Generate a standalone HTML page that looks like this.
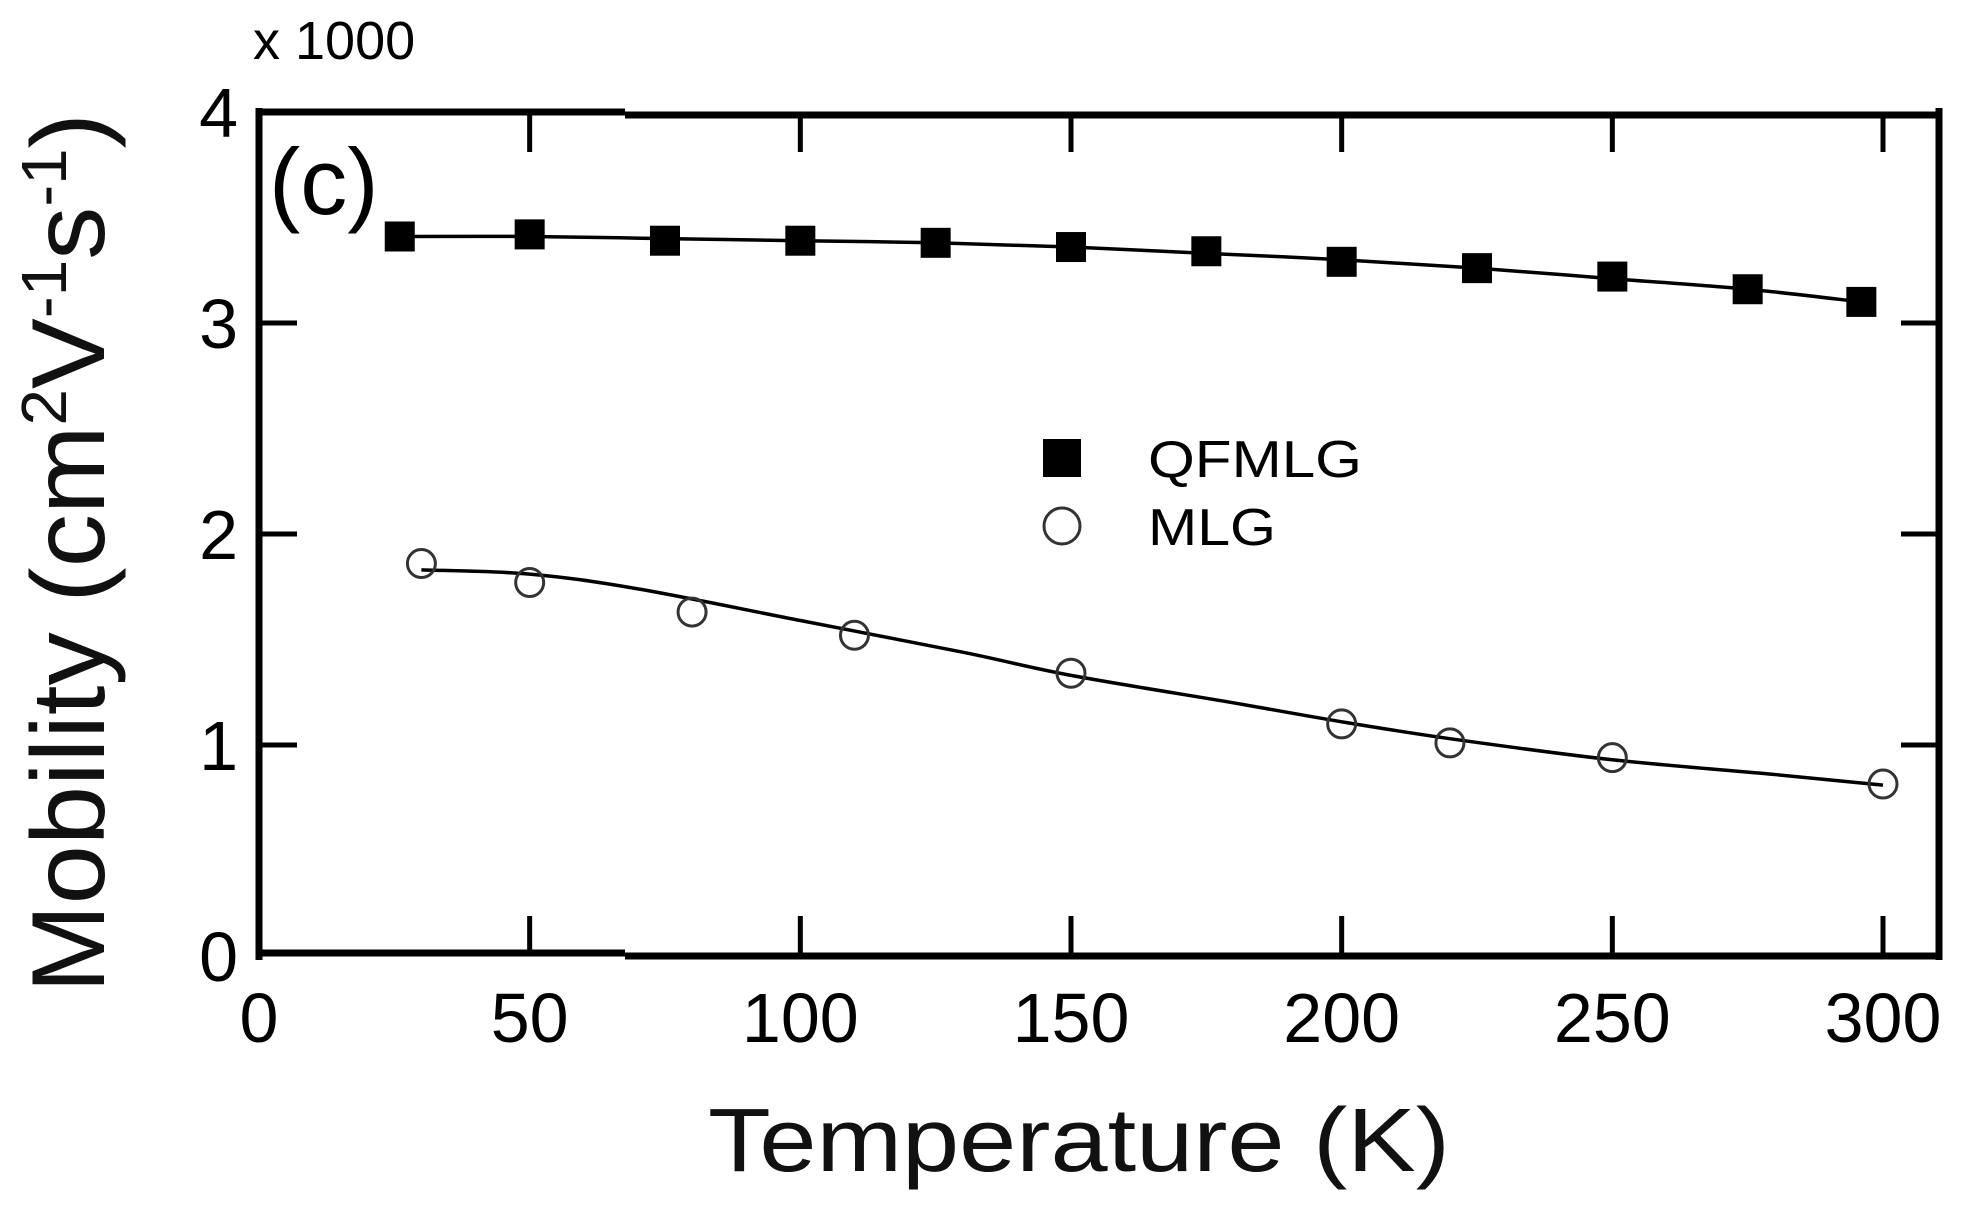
<!DOCTYPE html>
<html><head><meta charset="utf-8"><style>
html,body{margin:0;padding:0;background:#fff;}
svg{display:block;}
text{font-family:"Liberation Sans",sans-serif;fill:#000;}
</style></head><body>
<svg id="chart" width="1964" height="1218" viewBox="0 0 1964 1218" xmlns="http://www.w3.org/2000/svg">
<g id="frame"></g>
<g id="ticks"></g>
<g id="series"></g>
<text x="253" y="59" font-size="54">x 1000</text>
<text x="269" y="214" font-size="94">(c)</text>
<text transform="translate(104,553) rotate(-90)" text-anchor="middle" font-size="104" textLength="880" lengthAdjust="spacingAndGlyphs" style="fill:#111">Mobility (cm<tspan font-size="64" dy="-38">2</tspan><tspan dy="38">V</tspan><tspan font-size="64" dy="-38">-1</tspan><tspan dy="38">s</tspan><tspan font-size="64" dy="-38">-1</tspan><tspan dy="38">)</tspan></text>
<text x="708" y="1171" font-size="90" textLength="742" lengthAdjust="spacingAndGlyphs" style="fill:#111">Temperature (K)</text>
<g>
<rect x="1043" y="439" width="38" height="38" fill="#000"/>
<text x="1148" y="477" font-size="52" textLength="214" lengthAdjust="spacingAndGlyphs">QFMLG</text>
<circle cx="1062" cy="526" r="18" fill="none" stroke="#333" stroke-width="3"/>
<text x="1148" y="545" font-size="52" textLength="128" lengthAdjust="spacingAndGlyphs">MLG</text>
</g>
</svg>
<script>
const xTicks = [0, 50, 100, 150, 200, 250, 300];
const yTicks = [0, 1, 2, 3, 4];
const qfmlgT = [26, 50, 75, 100, 125, 150, 175, 200, 225, 250, 275, 296];
const qfmlgMu = [3.41, 3.42, 3.39, 3.39, 3.38, 3.36, 3.34, 3.29, 3.26, 3.22, 3.16, 3.10];
const qfmlgFitT = [26, 50, 75, 100, 125, 150, 175, 200, 225, 250, 275, 296];
const qfmlgFitMu = [3.41, 3.41, 3.40, 3.39, 3.38, 3.36, 3.33, 3.30, 3.26, 3.21, 3.16, 3.10];
const mlgT = [30, 50, 80, 110, 150, 200, 220, 250, 300];
const mlgMu = [1.86, 1.77, 1.63, 1.52, 1.34, 1.10, 1.01, 0.94, 0.815];
const mlgFitT = [30, 50, 70, 100, 130, 150, 180, 200, 220, 250, 280, 300];
const mlgFitMu = [1.83, 1.81, 1.74, 1.59, 1.44, 1.33, 1.20, 1.11, 1.03, 0.93, 0.86, 0.81];

const NS = 'http://www.w3.org/2000/svg';
const X0 = 259, XR = 1939, Y0 = 956, YT = 112;
function xs(t){ return X0 + t * (1883 - 259) / 300; }
function ys(v){ return Y0 - v * (Y0 - YT) / 4; }
function mk(tag, attrs, parent){
  const e = document.createElementNS(NS, tag);
  for (const k in attrs) e.setAttribute(k, attrs[k]);
  parent.appendChild(e); return e;
}
const frame = document.getElementById('frame');
const ticks = document.getElementById('ticks');
const series = document.getElementById('series');

let l;
l = mk('line',{x1:X0,y1:YT-4,x2:X0,y2:Y0+4,stroke:'#000','stroke-width':7},frame);
 
l = mk('line',{x1:XR,y1:YT-4,x2:XR,y2:Y0+4,stroke:'#000','stroke-width':7},frame);
 
l = mk('path',{d:`M${X0-3},${YT} H625 M625,${YT+3} H${XR+3}`,stroke:'#000','stroke-width':7,fill:'none'},frame);
 
l = mk('path',{d:`M${X0-3},${Y0-3} H625 M625,${Y0} H${XR+3}`,stroke:'#000','stroke-width':7,fill:'none'},frame);
 

xTicks.forEach(t => {
  const x = xs(t);
  if (t > 0) {
    let a = mk('line',{x1:x,y1:Y0,x2:x,y2:Y0-40,stroke:'#000','stroke-width':5},ticks);
     
    let b = mk('line',{x1:x,y1:YT,x2:x,y2:YT+40,stroke:'#000','stroke-width':5},ticks);
     
  }
  let tx = mk('text',{x:x,y:1042,'text-anchor':'middle','font-size':70},ticks);
   
  tx.textContent = String(t);
});
yTicks.forEach(v => {
  const y = ys(v);
  if (v > 0 && v < 4) {
    let a = mk('line',{x1:X0,y1:y,x2:X0+38,y2:y,stroke:'#000','stroke-width':5},ticks);
     
    let b = mk('line',{x1:XR,y1:y,x2:XR-38,y2:y,stroke:'#000','stroke-width':5},ticks);
     
  }
  let tx = mk('text',{x:238,y:y+25,'text-anchor':'end','font-size':70},ticks);
   
  tx.textContent = String(v);
});

function fitPath(T, M){
  const P = T.map((t,i)=>[xs(t), ys(M[i])]);
  let d = 'M' + P[0][0].toFixed(1) + ',' + P[0][1].toFixed(1);
  for (let i = 0; i < P.length - 1; i++) {
    const p0 = P[Math.max(0,i-1)], p1 = P[i], p2 = P[i+1], p3 = P[Math.min(P.length-1,i+2)];
    const c1x = p1[0] + (p2[0]-p0[0])/6, c1y = p1[1] + (p2[1]-p0[1])/6;
    const c2x = p2[0] - (p3[0]-p1[0])/6, c2y = p2[1] - (p3[1]-p1[1])/6;
    d += ` C${c1x.toFixed(1)},${c1y.toFixed(1)} ${c2x.toFixed(1)},${c2y.toFixed(1)} ${p2[0].toFixed(1)},${p2[1].toFixed(1)}`;
  }
  return d;
}
let p = mk('path',{d:fitPath(qfmlgFitT,qfmlgFitMu),fill:'none',stroke:'#000','stroke-width':3.5},series);
 
p = mk('path',{d:fitPath(mlgFitT,mlgFitMu),fill:'none',stroke:'#000','stroke-width':3.5},series);
 

qfmlgT.forEach((t,i)=>{
  const r = mk('rect',{x:xs(t)-15,y:ys(qfmlgMu[i])-15,width:30,height:30,fill:'#000'},series);
  
  
});
mlgT.forEach((t,i)=>{
  const c = mk('circle',{cx:xs(t),cy:ys(mlgMu[i]),r:14,fill:'none',stroke:'#333','stroke-width':3},series);
  
  
});
</script>
</body></html>
